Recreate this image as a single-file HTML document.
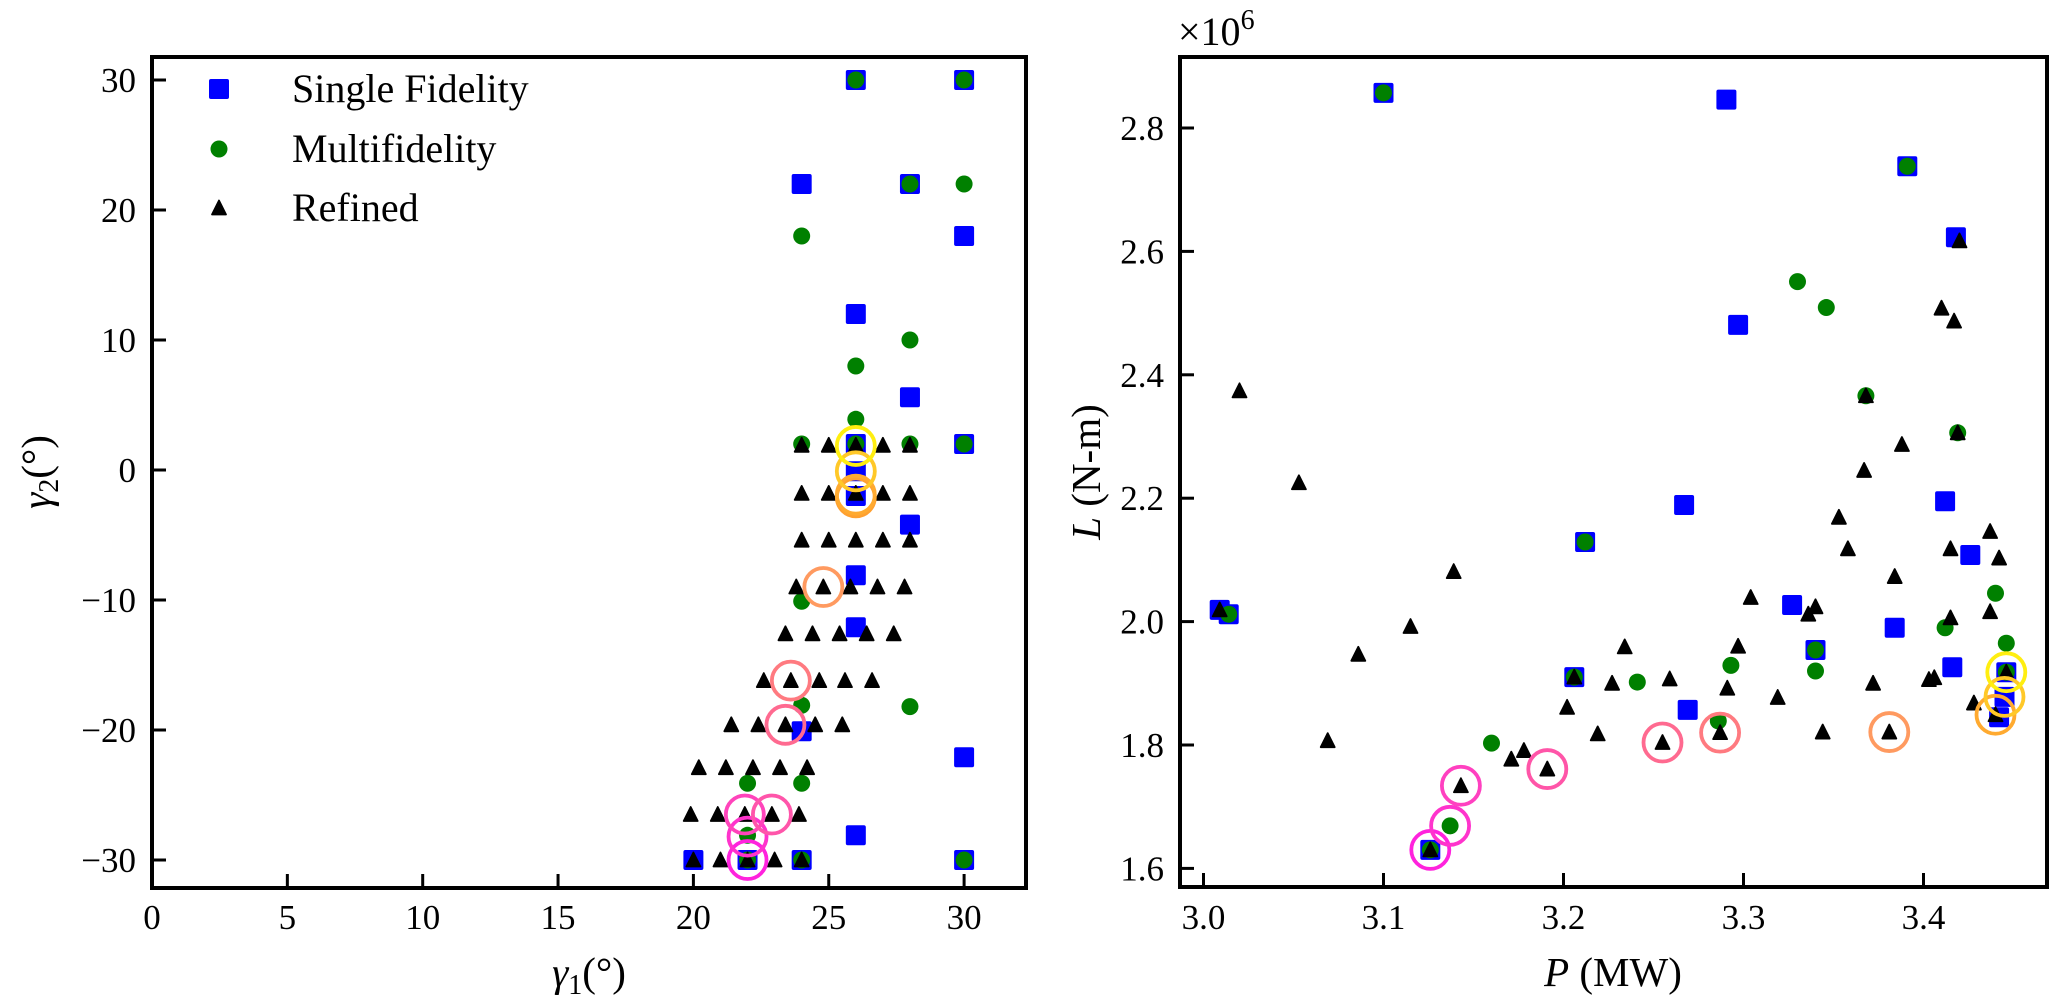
<!DOCTYPE html>
<html><head><meta charset="utf-8"><style>
html,body{margin:0;padding:0;background:#fff;}
svg{display:block;font-family:"Liberation Serif",serif;}
</style></head><body>
<svg id="fig" width="2067" height="1006" xmlns="http://www.w3.org/2000/svg">
<g id="left"></g>
<g id="right"></g>
</svg>
<script>
// ---- Left panel data (gamma1, gamma2 in degrees) ----
const leftSF_g1 = [26,30,24,28,30,26,28,26,26,26,28,30,26,26,24,30,26,20,22,24,30];
const leftSF_g2 = [30,30,22,22,18,12,5.6,2,-0.1,-2,-4.2,2,-8.1,-12.1,-20.1,-22.1,-28.1,-30,-30,-30,-30];
const leftMF_g1 = [26,30,28,30,24,28,26,26,24,26,28,30,24,24,28,22,24,22,22,24,30];
const leftMF_g2 = [30,30,22,22,18,10,8,3.9,2,2,2,2,-10.1,-18.1,-18.2,-24.1,-24.1,-28.1,-30,-30,-30];
const leftRef_g1 = [24,25,26,27,28, 24,25,26,27,28, 24,25,26,27,28, 23.8,24.8,25.8,26.8,27.8,
  23.4,24.4,25.4,26.4,27.4, 22.6,23.6,24.65,25.6,26.6, 21.4,22.4,23.4,24.5,25.5,
  20.2,21.2,22.2,23.2,24.2, 19.9,20.9,21.9,22.9,23.9, 20,21,22,23,24];
const leftRef_g2 = [1.9,1.9,1.9,1.9,1.9, -1.8,-1.8,-1.8,-1.8,-1.8, -5.4,-5.4,-5.4,-5.4,-5.4, -9,-9,-9,-9,-9,
  -12.6,-12.6,-12.6,-12.6,-12.6, -16.2,-16.2,-16.2,-16.2,-16.2, -19.6,-19.6,-19.6,-19.6,-19.6,
  -22.9,-22.9,-22.9,-22.9,-22.9, -26.5,-26.5,-26.5,-26.5,-26.5, -30,-30,-30,-30,-30];
const leftHi_g1 = [22,22,21.9,22.9,23.4,23.6,24.8,26,26,26,26];
const leftHi_g2 = [-30,-28.2,-26.5,-26.5,-19.6,-16.2,-9,-2.1,-1.9,-0.1,1.85];
const leftHiColor = ["#ff22dd","#ff33cc","#ff44bb","#ff55aa","#ff6a90","#ff7a80","#ff9a60","#ffa030","#ffaa30","#ffc828","#ffee10"];
const leftXTicks = [0,5,10,15,20,25,30];
const leftYTicks = [30,20,10,0,-10,-20,-30];

// ---- Right panel data (P in MW, L in 1e6 N-m) ----
const rightSF_P = [3.100,3.2905,3.297,3.009,3.014,3.212,3.267,3.206,3.269,3.126,3.391,3.418,3.412,3.426,3.327,3.384,3.340,3.416,3.446,3.445,3.442];
const rightSF_L = [2.857,2.846,2.481,2.019,2.012,2.129,2.189,1.910,1.857,1.630,2.738,2.623,2.195,2.108,2.027,1.990,1.954,1.926,1.918,1.878,1.845];
const rightMF_P = [3.100,3.014,3.212,3.206,3.241,3.293,3.286,3.160,3.137,3.126,3.391,3.330,3.346,3.368,3.419,3.440,3.340,3.340,3.412,3.446,3.446];
const rightMF_L = [2.857,2.012,2.129,1.910,1.902,1.929,1.839,1.803,1.669,1.630,2.738,2.551,2.509,2.366,2.306,2.046,1.954,1.920,1.990,1.965,1.918];
const rightRef_P = [3.020,3.053,3.139,3.009,3.115,3.086,3.069,3.304,3.234,3.297,3.206,3.227,3.259,3.291,3.319,3.202,3.219,3.255,3.287,3.178,3.171,3.191,3.143,3.126,
  3.420,3.410,3.417,3.368,3.419,3.388,3.367,3.353,3.437,3.358,3.415,3.442,3.384,
  3.340,3.336,3.415,3.437,3.344,3.372,3.381,3.403,3.406,3.428,3.440,3.446];
const rightRef_L = [2.374,2.225,2.081,2.019,1.992,1.947,1.807,2.039,1.959,1.960,1.910,1.900,1.907,1.892,1.877,1.861,1.818,1.804,1.820,1.791,1.777,1.761,1.734,1.630,
  2.617,2.508,2.487,2.366,2.306,2.287,2.245,2.169,2.146,2.118,2.118,2.103,2.073,
  2.024,2.012,2.006,2.016,1.821,1.900,1.821,1.906,1.909,1.868,1.849,1.918];
const rightHi_P = [3.126,3.137,3.143,3.191,3.255,3.287,3.381,3.440,3.445,3.446];
const rightHi_L = [1.630,1.669,1.734,1.761,1.804,1.820,1.821,1.849,1.878,1.918];
const rightHiColor = ["#ff22dd","#ff33cc","#ff40c0","#ff55a8","#ff6a90","#ff7a80","#ff9a60","#ffaa30","#ffc828","#ffee10"];
const rightXTicks = [3.0,3.1,3.2,3.3,3.4];
const rightYTicks = [1.6,1.8,2.0,2.2,2.4,2.6,2.8];

const NS = "http://www.w3.org/2000/svg";
function mk(parent, tag, attrs, text){
  const e = document.createElementNS(NS, tag);
  for (const k in attrs) e.setAttribute(k, attrs[k]);
  if (text !== undefined) e.textContent = text;
  parent.appendChild(e);
  return e;
}
function square(g, x, y){
  const e = mk(g, "rect", {x:x-10, y:y-10, width:20, height:20, rx:2, fill:"#0000ff"});
  
  
}
function dot(g, x, y){
  const e = mk(g, "circle", {cx:x, cy:y, r:8.5, fill:"#008000"});
  
  
}
function tri(g, x, y){
  const e = mk(g, "path", {d:`M${x} ${y-7.5} L${x+7} ${y+6.5} L${x-7} ${y+6.5} Z`, fill:"#000", stroke:"#000", "stroke-width":1.8, "stroke-linejoin":"round"});
  
  
}
function ring(g, x, y, c){
  const e = mk(g, "circle", {cx:x, cy:y, r:19, fill:"none", stroke:c, "stroke-width":3.8});
  
  
}
function frame(g, x0, y0, x1, y1){
  const e = mk(g, "rect", {x:x0, y:y0, width:x1-x0, height:y1-y0, fill:"none", stroke:"#000", "stroke-width":4});
  
  
}

// ---- Left panel ----
(function(){
  const g = document.getElementById("left");
  const x0=152, x1=1026, y0=57, y1=888;
  const X = v => 152 + v*27.07;
  const Y = v => 470 - v*13.0;
  leftXTicks.forEach(t=>{
    const l = mk(g,"line",{x1:X(t),x2:X(t),y1:y1,y2:y1-14,stroke:"#000","stroke-width":3});
    
    
    const tx = mk(g,"text",{x:X(t),y:929,"font-size":35,"text-anchor":"middle"}, String(t));
    
    
  });
  leftYTicks.forEach(t=>{
    const l = mk(g,"line",{x1:x0,x2:x0+14,y1:Y(t),y2:Y(t),stroke:"#000","stroke-width":3});
    
    
    const tx = mk(g,"text",{x:136,y:Y(t)+12,"font-size":35,"text-anchor":"end"}, t<0 ? "\u2212"+(-t) : String(t));
    
    
  });
  leftSF_g1.forEach((v,i)=>square(g, X(v), Y(leftSF_g2[i])));
  leftMF_g1.forEach((v,i)=>dot(g, X(v), Y(leftMF_g2[i])));
  leftRef_g1.forEach((v,i)=>tri(g, X(v), Y(leftRef_g2[i])));
  leftHi_g1.forEach((v,i)=>ring(g, X(v), Y(leftHi_g2[i]), leftHiColor[i]));
  frame(g, x0, y0, x1, y1);
  const lg = mk(g,"g",{});
  
  
  square(lg, 219, 89); dot(lg, 219, 149); tri(lg, 219, 208);
  const t1 = mk(lg,"text",{x:292,y:102,"font-size":40}, "Single Fidelity");
  
  
  const t2 = mk(lg,"text",{x:292,y:162,"font-size":40}, "Multifidelity");
  
  
  const t3 = mk(lg,"text",{x:292,y:221,"font-size":40}, "Refined");
  
  
  const xl = mk(g,"text",{x:589,y:986,"font-size":41,"text-anchor":"middle"});
  
  
  xl.innerHTML = '<tspan font-style="italic">γ</tspan><tspan font-size="28" dy="8">1</tspan><tspan dy="-8">(°)</tspan>';
  const yl = mk(g,"text",{x:0,y:0,"font-size":41,"text-anchor":"middle",transform:"translate(50,472) rotate(-90)"});
  
  
  yl.innerHTML = '<tspan font-style="italic">γ</tspan><tspan font-size="28" dy="8">2</tspan><tspan dy="-8">(°)</tspan>';
})();

// ---- Right panel ----
(function(){
  const g = document.getElementById("right");
  const x0=1180, x1=2047, y0=57, y1=887;
  const X = v => 1203.5 + (v-3.0)*1800;
  const Y = v => 745 - (v-1.8)*617;
  rightXTicks.forEach(t=>{
    const l = mk(g,"line",{x1:X(t),x2:X(t),y1:y1,y2:y1-14,stroke:"#000","stroke-width":3});
    
    
    const tx = mk(g,"text",{x:X(t),y:929,"font-size":35,"text-anchor":"middle"}, t.toFixed(1));
    
    
  });
  rightYTicks.forEach(t=>{
    const l = mk(g,"line",{x1:x0,x2:x0+14,y1:Y(t),y2:Y(t),stroke:"#000","stroke-width":3});
    
    
    const tx = mk(g,"text",{x:1164,y:Y(t)+12,"font-size":35,"text-anchor":"end"}, t.toFixed(1));
    
    
  });
  rightSF_P.forEach((v,i)=>square(g, X(v), Y(rightSF_L[i])));
  rightMF_P.forEach((v,i)=>dot(g, X(v), Y(rightMF_L[i])));
  rightRef_P.forEach((v,i)=>tri(g, X(v), Y(rightRef_L[i])));
  rightHi_P.forEach((v,i)=>ring(g, X(v), Y(rightHi_L[i]), rightHiColor[i]));
  frame(g, x0, y0, x1, y1);
  const off = mk(g,"text",{x:1178,y:45,"font-size":40});
  
  
  off.innerHTML = '×10<tspan font-size="28" dy="-16">6</tspan>';
  const xl = mk(g,"text",{x:1613,y:986,"font-size":41,"text-anchor":"middle"});
  
  
  xl.innerHTML = '<tspan font-style="italic">P</tspan> (MW)';
  const yl = mk(g,"text",{x:0,y:0,"font-size":41,"text-anchor":"middle",transform:"translate(1100,472) rotate(-90)"});
  
  
  yl.innerHTML = '<tspan font-style="italic">L</tspan> (N-m)';
})();
</script>
</body></html>
